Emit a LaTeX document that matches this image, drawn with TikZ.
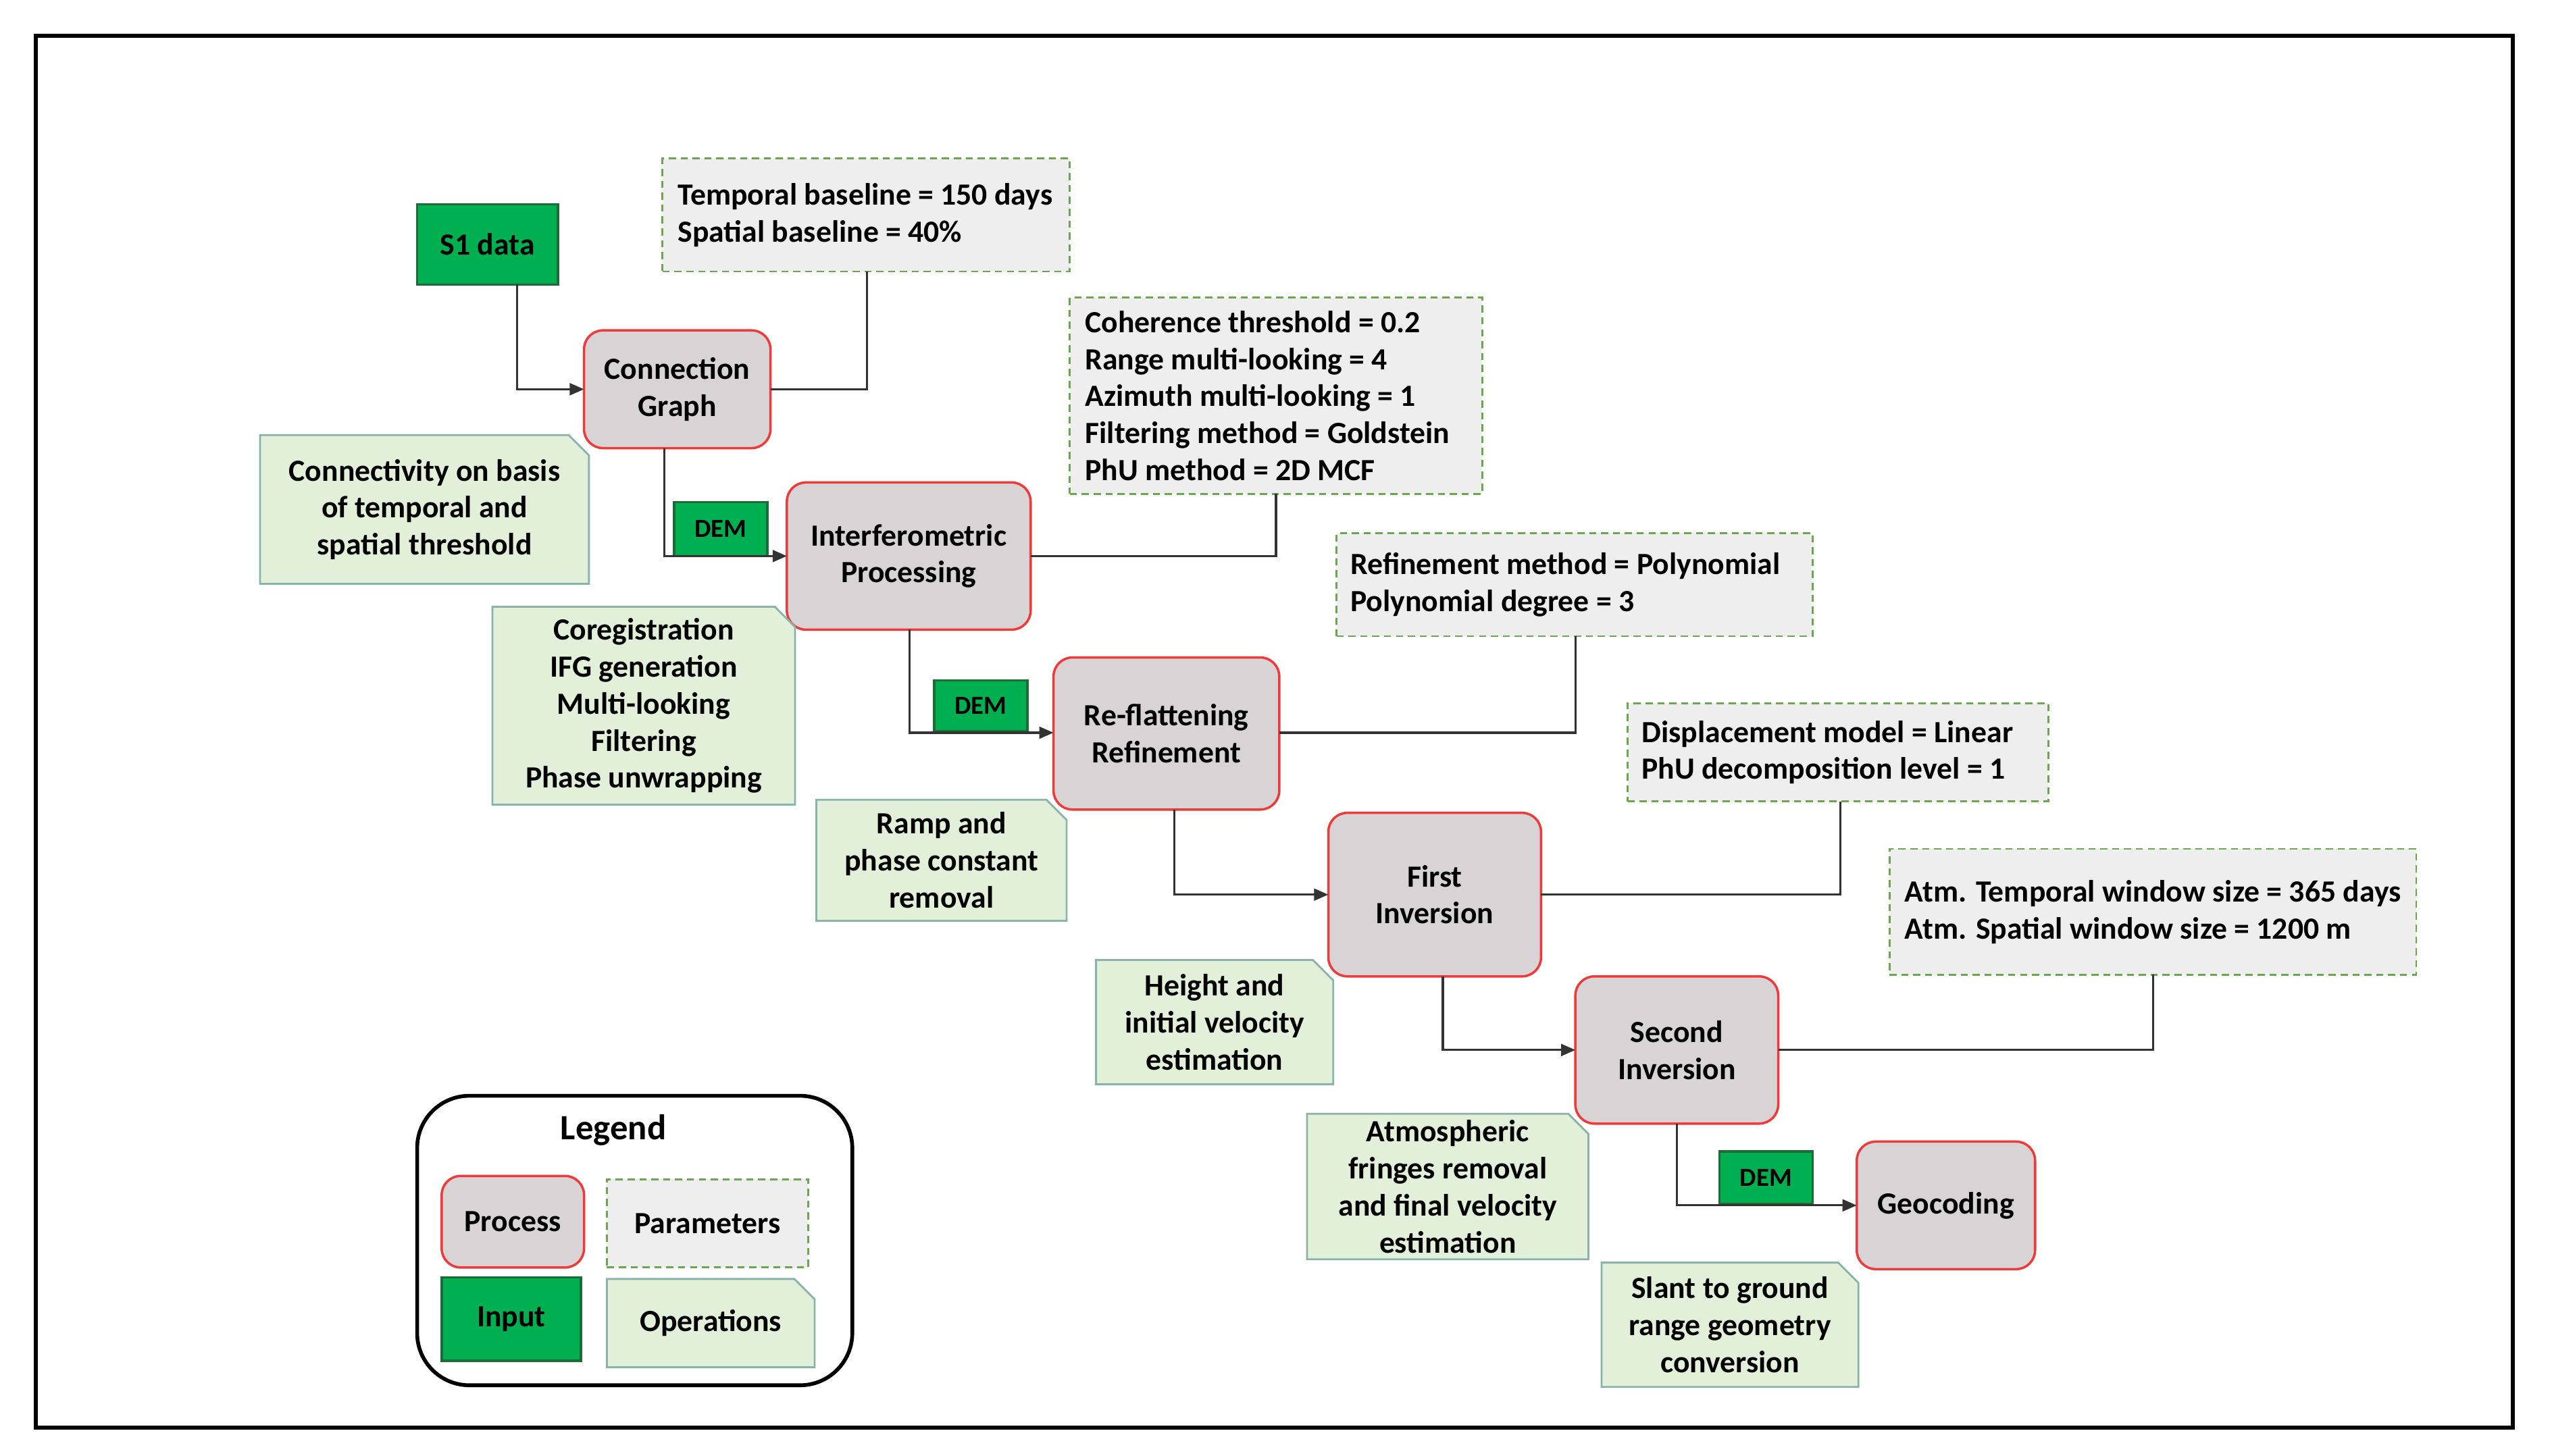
\documentclass[tikz,border=0pt]{standalone}
\usepackage{fontspec}
\setmainfont{Carlito}
\usetikzlibrary{fit,arrows.meta}
\definecolor{procfill}{HTML}{D8D3D5}
\definecolor{procline}{HTML}{F03A3A}
\definecolor{inpfill}{HTML}{00B050}
\definecolor{inpline}{HTML}{1E6B3A}
\definecolor{parfill}{HTML}{EEEEEE}
\definecolor{parline}{HTML}{6AA84F}
\definecolor{notefill}{HTML}{E2F0D9}
\definecolor{noteline}{HTML}{8AB4AA}
\tikzset{
  box/.style={inner sep=0pt, outer sep=0pt},
  proc/.style={box, draw=procline, fill=procfill, line width=1pt, rounded corners=8pt},
  inp/.style={box, draw=inpline, fill=inpfill, line width=1pt},
  par/.style={box, draw=parline, fill=parfill, line width=0.8pt, dash pattern=on 3pt off 2pt},
  notebox/.style={box},
  note/.style={draw=noteline, fill=notefill, line width=0.8pt},
  txt/.style={font=\bfseries\fontsize{13}{15.6}\selectfont, align=center, inner sep=0pt},
  ptxt/.style={font=\bfseries\fontsize{13}{15.6}\selectfont, align=left, inner sep=0pt},
  con/.style={line width=0.9pt, draw=black!80},
  arr/.style={con, -{Triangle[length=6pt,width=5pt]}},
}
\newcommand{\fold}[1]{\draw[note] (#1.south west) -- (#1.north west) -- ([xshift=-0.3cm]#1.north east) -- ([yshift=-0.3cm]#1.north east) -- (#1.south east) -- cycle;}
\begin{document}
\begin{tikzpicture}[x=0.024218cm,y=-0.024218cm]
\useasboundingbox (0,0) rectangle (1560,890);
\fill[white] (0,0) rectangle (1560,890);
\draw[line width=1.6pt] (22,22) rectangle (1536,873);

% parameter boxes
\node[par, fit={(405,97)(654,166)}] (p1) {};
\node[ptxt, anchor=west] at ([xshift=0.22cm]p1.west) {Temporal baseline = 150 days\\Spatial baseline = 40\%};
\node[par, fit={(654,182)(906,302)}] (p2) {};
\node[ptxt, anchor=west] at ([xshift=0.22cm]p2.west) {Coherence threshold = 0.2\\Range multi-looking = 4\\Azimuth multi-looking = 1\\Filtering method = Goldstein\\PhU method = 2D MCF};
\node[par, fit={(817,326)(1108,389)}] (p3) {};
\node[ptxt, anchor=west] at ([xshift=0.2cm]p3.west) {Refinement method = Polynomial\\Polynomial degree = 3};
\node[par, fit={(995,430)(1252,490)}] (p4) {};
\node[ptxt, anchor=west] at ([xshift=0.2cm]p4.west) {Displacement model = Linear\\PhU decomposition level = 1};
\node[par, fit={(1155,519)(1477,596)}] (p5) {};
\node[ptxt, anchor=west] at ([xshift=0.22cm]p5.west) {Atm. Temporal window size = 365 days\\Atm. Spatial window size = 1200 m};

% inputs
\node[inp, fit={(255,125)(341,174)}] (s1) {};
\node[txt] at (s1.center) {S1 data};
\node[inp, fit={(412,307)(469,340)}] (d1) {};
\node[txt, font=\bfseries\fontsize{11}{13}\selectfont] at (d1.center) {DEM};
\node[inp, fit={(571,416)(628,447)}] (d2) {};
\node[txt, font=\bfseries\fontsize{11}{13}\selectfont] at (d2.center) {DEM};
\node[inp, fit={(1051,704)(1108,736)}] (d3) {};
\node[txt, font=\bfseries\fontsize{11}{13}\selectfont] at (d3.center) {DEM};

% processes
\node[proc, fit={(357,202)(471,274)}] (cg) {};
\node[txt] at (cg.center) {Connection\\Graph};
\node[proc, fit={(481,295)(630,385)}] (ip) {};
\node[txt] at (ip.center) {Interferometric\\Processing};
\node[proc, fit={(644,402)(782,495)}] (rf) {};
\node[txt] at (rf.center) {Re-flattening\\Refinement};
\node[proc, fit={(812,497)(942,597)}] (fi) {};
\node[txt] at (fi.center) {First\\Inversion};
\node[proc, fit={(963,597)(1087,687)}] (si) {};
\node[txt] at (si.center) {Second\\Inversion};
\node[proc, fit={(1135,698)(1244,776)}] (gc) {};
\node[txt] at (gc.center) {Geocoding};

% notes
\node[notebox, fit={(159,266)(360,357)}] (n1) {}; \fold{n1}
\node[txt] at (n1.center) {Connectivity on basis\\of temporal and\\spatial threshold};
\node[notebox, fit={(301,371)(486,492)}] (n2) {}; \fold{n2}
\node[txt] at (n2.center) {Coregistration\\IFG generation\\Multi-looking\\Filtering\\Phase unwrapping};
\node[notebox, fit={(499,489)(652,563)}] (n3) {}; \fold{n3}
\node[txt] at (n3.center) {Ramp and\\phase constant\\removal};
\node[notebox, fit={(670,587)(815,663)}] (n4) {}; \fold{n4}
\node[txt] at (n4.center) {Height and\\initial velocity\\estimation};
\node[notebox, fit={(799,681)(971,770)}] (n5) {}; \fold{n5}
\node[txt] at (n5.center) {Atmospheric\\fringes removal\\and final velocity\\estimation};
\node[notebox, fit={(979,772)(1136,848)}] (n6) {}; \fold{n6}
\node[txt] at (n6.center) {Slant to ground\\range geometry\\conversion};

% connectors
\coordinate (c1) at (316,238);
\draw[arr] (s1.south -| c1) -- (c1) -- (cg.west |- c1);
\draw[con] (p1.south -| 530,0) -- (530,238) -- (cg.east |- 0,238);
\draw[arr] (cg.south -| 406,0) -- (406,340) -- (ip.west |- 0,340);
\draw[con] (p2.south -| 780,0) -- (780,340) -- (ip.east |- 0,340);
\draw[arr] (ip.south -| 556,0) -- (556,448) -- (rf.west |- 0,448);
\draw[con] (p3.south -| 963,0) -- (963,448) -- (rf.east |- 0,448);
\draw[arr] (rf.south -| 718,0) -- (718,547) -- (fi.west |- 0,547);
\draw[con] (p4.south -| 1125,0) -- (1125,547) -- (fi.east |- 0,547);
\draw[arr] (fi.south -| 882,0) -- (882,642) -- (si.west |- 0,642);
\draw[con] (p5.south -| 1316,0) -- (1316,642) -- (si.east |- 0,642);
\draw[arr] (si.south -| 1025,0) -- (1025,737) -- (gc.west |- 0,737);

% legend
\node[box, draw, line width=1.6pt, rounded corners=22pt, fit={(255,670)(521,847)}] (lg) {};
\node[txt, font=\bfseries\fontsize{15}{18}\selectfont] at (375,691) {Legend};
\node[proc, fit={(270,719)(357,775)}] (lp) {};
\node[txt] at (lp.center) {Process};
\node[par, fit={(371,721)(494,775)}] (lpa) {};
\node[txt] at (lpa.center) {Parameters};
\node[inp, fit={(270,781)(355,832)}] (li) {};
\node[txt] at (li.center) {Input};
\node[notebox, fit={(371,782)(498,836)}] (lo) {}; \fold{lo}
\node[txt] at (lo.center) {Operations};
\end{tikzpicture}
\end{document}
